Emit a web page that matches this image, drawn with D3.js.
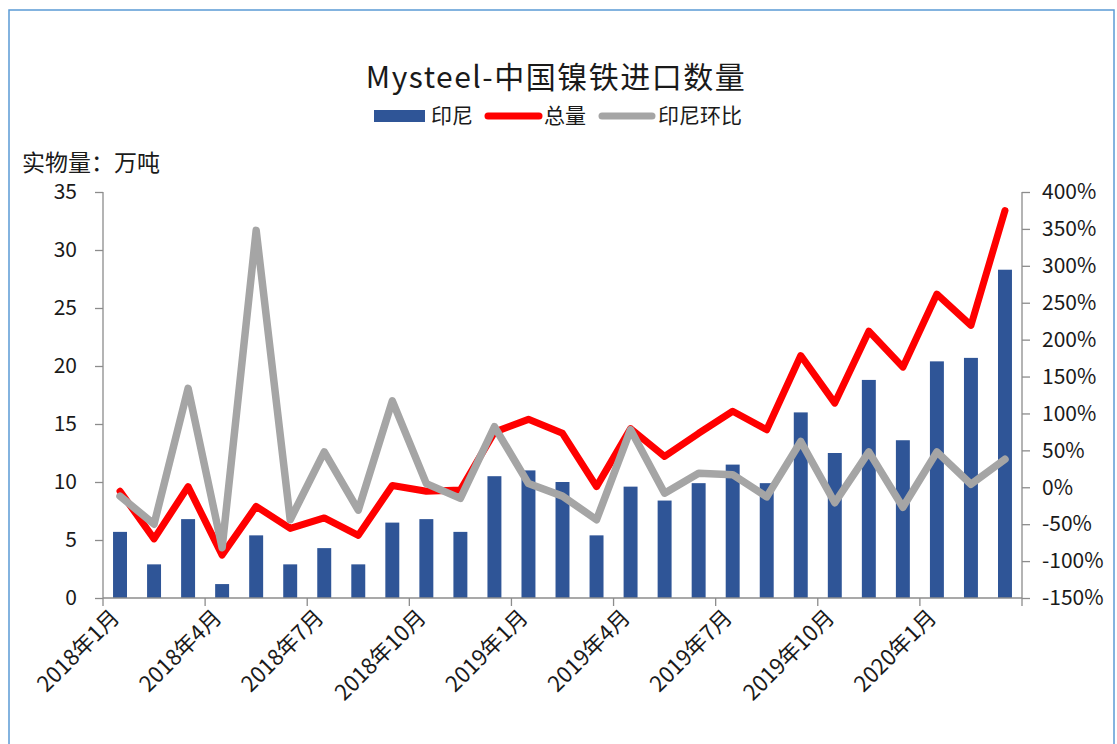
<!DOCTYPE html>
<html>
<head>
<meta charset="utf-8">
<script src="https://cdn.jsdelivr.net/npm/d3@7"></script>
<style>
  body { margin: 0; background: #fff; }
  text { font-family: "Noto Sans CJK SC", "Noto Sans", sans-serif; fill: #1a1a1a; }
</style>
</head>
<body>
<div id="chart"></div>
<script>
// months 2018-01 .. 2020-03
const months = [
  "2018年1月","2018年2月","2018年3月","2018年4月","2018年5月","2018年6月",
  "2018年7月","2018年8月","2018年9月","2018年10月","2018年11月","2018年12月",
  "2019年1月","2019年2月","2019年3月","2019年4月","2019年5月","2019年6月",
  "2019年7月","2019年8月","2019年9月","2019年10月","2019年11月","2019年12月",
  "2020年1月","2020年2月","2020年3月"
];
// 印尼 (万吨)
const indonesia = [5.7, 2.9, 6.8, 1.2, 5.4, 2.9, 4.3, 2.9, 6.5, 6.8, 5.7, 10.5,
  11.0, 10.0, 5.4, 9.6, 8.4, 9.9, 11.5, 9.9, 16.0, 12.5, 18.8, 13.6, 20.4, 20.7, 28.3];
// 总量 (万吨)
const total = [9.2, 5.1, 9.6, 3.7, 7.9, 6.0, 6.9, 5.4, 9.7, 9.2, 9.3, 14.3,
  15.4, 14.2, 9.6, 14.6, 12.2, 14.2, 16.1, 14.5, 20.9, 16.8, 23.0, 19.9, 26.2, 23.5, 33.4];
// 印尼环比 (%)
const momPct = [-12, -50, 134, -82, 348, -44, 48, -31, 117, 5, -15, 82,
  5, -12, -44, 78, -8, 19, 17, -13, 62, -21, 48, -27, 48, 4, 38];

const leftTicks = [0, 5, 10, 15, 20, 25, 30, 35];
const rightTicks = [-150, -100, -50, 0, 50, 100, 150, 200, 250, 300, 350, 400];

const W = 1117, H = 744;
const margin = {top: 192, right: 95, bottom: 146, left: 103};
const width = W - margin.left - margin.right;
const height = H - margin.top - margin.bottom;

const svg = d3.select("#chart").append("svg")
  .attr("width", W).attr("height", H);

// outer frame
svg.append("rect")
  .attr("x", 9).attr("y", 10).attr("width", 1105).attr("height", 760)
  .attr("fill", "none").attr("stroke", "#5b9bd5").attr("stroke-width", 1.5);

const g = svg.append("g")
  .attr("transform", "translate(" + margin.left + "," + margin.top + ")");

const x = d3.scaleBand().domain(months).range([0, width]).padding(0);
const yL = d3.scaleLinear().domain([0, 35]).range([height, 0]);
const yR = d3.scaleLinear().domain([-150, 400]).range([height, 0]);

const barW = x.bandwidth() * 0.41;
const cx = d => x(d) + x.bandwidth() / 2;

// bars
g.selectAll("rect.bar")
  .data(indonesia)
  .enter().append("rect")
  .attr("class", "bar")
  .attr("x", (d, i) => cx(months[i]) - barW / 2)
  .attr("y", d => yL(d))
  .attr("width", barW)
  .attr("height", d => height - yL(d))
  .attr("fill", "#2f5597");

// axes
const axisColor = "#8c8c8c";

const xAxis = d3.axisBottom(x)
  .tickValues(months.filter((d, i) => i % 3 === 0))
  .tickSize(8).tickFormat("");
const xg = g.append("g")
  .attr("transform", "translate(0," + height + ")")
  .call(xAxis);
// move ticks to category boundaries
xg.selectAll(".tick").attr("transform", d => "translate(" + x(d) + ",0)");
xg.append("line").attr("x1", width).attr("x2", width).attr("y1", 0).attr("y2", 8)
  .attr("stroke", axisColor);
xg.select(".domain").attr("d", "M0,0H" + width);
xg.selectAll("line, path").attr("stroke", axisColor).attr("stroke-width", 1.3);

// x labels rotated
g.append("g").selectAll("text")
  .data(months.filter((d, i) => i % 3 === 0))
  .enter().append("text")
  .attr("transform", d => "translate(" + (cx(d) - 10) + "," + (height + 10) + ") rotate(-45)")
  .attr("text-anchor", "end")
  .attr("dy", "0.7em")
  .style("font-size", "22px")
  .text(d => d);

const yAxisL = d3.axisLeft(yL).tickValues(leftTicks).tickSize(8).tickPadding(18);
const ylg = g.append("g").call(yAxisL);
ylg.select(".domain").attr("d", "M0," + height + "V0");
ylg.selectAll("line, path").attr("stroke", axisColor).attr("stroke-width", 1.3);
ylg.selectAll("text").style("font-size", "21px").attr("fill", "#1a1a1a");

const yAxisR = d3.axisRight(yR).tickValues(rightTicks).tickSize(8).tickPadding(12)
  .tickFormat(d => d + "%");
const yrg = g.append("g").attr("transform", "translate(" + width + ",0)").call(yAxisR);
yrg.select(".domain").attr("d", "M0," + height + "V0");
yrg.selectAll("line, path").attr("stroke", axisColor).attr("stroke-width", 1.3);
yrg.selectAll("text").style("font-size", "21px").attr("fill", "#1a1a1a");

// lines
const lineTotal = d3.line()
  .x((d, i) => cx(months[i]))
  .y(d => yL(d));
const lineMom = d3.line()
  .x((d, i) => cx(months[i]))
  .y(d => yR(d));

g.append("path").datum(total)
  .attr("d", lineTotal)
  .attr("fill", "none").attr("stroke", "#ff0000")
  .attr("stroke-width", 7).attr("stroke-linejoin", "round").attr("stroke-linecap", "round");

g.append("path").datum(momPct)
  .attr("d", lineMom)
  .attr("fill", "none").attr("stroke", "#a5a5a5")
  .attr("stroke-width", 7.5).attr("stroke-linejoin", "round").attr("stroke-linecap", "round");

// title
svg.append("text")
  .attr("x", 556).attr("y", 88)
  .attr("text-anchor", "middle")
  .style("font-size", "30px")
  .style("letter-spacing", "1.5px")
  .text("Mysteel-中国镍铁进口数量");

// legend
const legend = svg.append("g");
legend.append("rect").attr("x", 374).attr("y", 110).attr("width", 51).attr("height", 12)
  .attr("fill", "#2f5597");
legend.append("text").attr("x", 431).attr("y", 123).style("font-size", "21px").text("印尼");
legend.append("line").attr("x1", 488).attr("x2", 539).attr("y1", 116).attr("y2", 116)
  .attr("stroke", "#ff0000").attr("stroke-width", 7).attr("stroke-linecap", "round");
legend.append("text").attr("x", 544).attr("y", 123).style("font-size", "21px").text("总量");
legend.append("line").attr("x1", 602).attr("x2", 652).attr("y1", 116).attr("y2", 116)
  .attr("stroke", "#a5a5a5").attr("stroke-width", 7).attr("stroke-linecap", "round");
legend.append("text").attr("x", 658).attr("y", 123).style("font-size", "21px").text("印尼环比");

// unit label
svg.append("text").attr("x", 22).attr("y", 171)
  .style("font-size", "23px")
  .text("实物量：万吨");
</script>
</body>
</html>
